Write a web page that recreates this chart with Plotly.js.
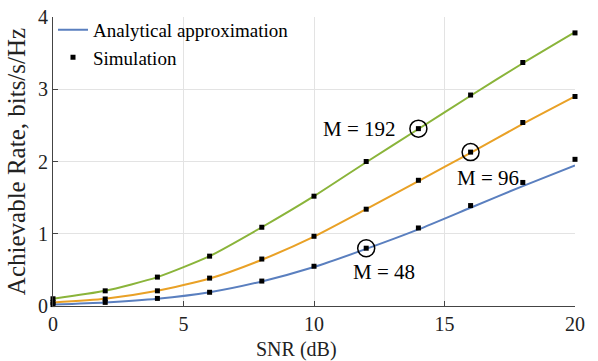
<!DOCTYPE html>
<html>
<head>
<meta charset="utf-8">
<script src="https://cdn.plot.ly/plotly-3.0.1.min.js"></script>
<style>html,body{margin:0;padding:0;background:#fff;}#chart{width:598px;height:361px;}</style>
</head>
<body>
<div id="chart"></div>
<script>
var snr = [0, 2, 4, 6, 8, 10, 12, 14, 16, 18, 20];
var anaM48  = [0.02, 0.05, 0.10, 0.19, 0.34, 0.54, 0.79, 1.06, 1.36, 1.66, 1.945];
var anaM96  = [0.05, 0.10, 0.21, 0.38, 0.64, 0.96, 1.34, 1.73, 2.12, 2.52, 2.90];
var anaM192 = [0.10, 0.21, 0.40, 0.69, 1.09, 1.52, 1.99, 2.45, 2.91, 3.36, 3.79];
var simM48  = [0.02, 0.05, 0.105, 0.19, 0.345, 0.55, 0.80, 1.08, 1.39, 1.71, 2.03];
var simM96  = [0.05, 0.097, 0.21, 0.386, 0.65, 0.965, 1.34, 1.74, 2.13, 2.54, 2.90];
var simM192 = [0.10, 0.21, 0.40, 0.69, 1.09, 1.52, 2.00, 2.455, 2.92, 3.37, 3.78];
var xTicks = [0, 5, 10, 15, 20];
var yTicks = [0, 1, 2, 3, 4];

var font = "Liberation Serif, Times New Roman, serif";
var cBlue = "#5a7fbf", cOrange = "#e9a126", cGreen = "#8ab43a";

function line(y, c, name, show) {
  return {x: snr, y: y, mode: "lines", type: "scatter", name: name, showlegend: show,
    line: {color: c, width: 2, shape: "spline", smoothing: 0.6}, cliponaxis: false};
}
function sim(y, show) {
  return {x: snr, y: y, mode: "markers", type: "scatter", name: "Simulation", showlegend: show,
    marker: {symbol: "square", color: "#000", size: 5}, cliponaxis: false};
}
var data = [
  line(anaM48, cBlue, "Analytical approximation", true),
  line(anaM96, cOrange, "Analytical M96", false),
  line(anaM192, cGreen, "Analytical M192", false),
  sim(simM48, true), sim(simM96, false), sim(simM192, false)
];

function circ(x, y) {
  return {type: "circle", xref: "x", yref: "y", xsizemode: "pixel", ysizemode: "pixel",
    xanchor: x, yanchor: y, x0: -8.5, x1: 8.5, y0: -8.5, y1: 8.5,
    line: {color: "#000", width: 1.5}};
}

var layout = {
  width: 598, height: 361,
  margin: {l: 53, r: 23, t: 16, b: 55},
  paper_bgcolor: "#fff", plot_bgcolor: "#fff",
  font: {family: font, size: 18, color: "#222"},
  showlegend: true,
  legend: {x: 0.0, y: 1.018, xanchor: "left", yanchor: "top", bgcolor: "rgba(0,0,0,0)",
    font: {family: font, size: 19, color: "#000"}, itemwidth: 30, tracegroupgap: 0},
  xaxis: {range: [0, 20], tickvals: xTicks, ticktext: xTicks.map(String),
    showgrid: true, gridcolor: "#e3e3e3", zeroline: false,
    showline: true, linecolor: "#444", linewidth: 1, ticks: "inside", ticklen: 5, tickcolor: "#444",
    tickfont: {family: font, size: 20, color: "#222"}},
  yaxis: {range: [0, 4], tickvals: yTicks, ticktext: yTicks.map(String),
    showgrid: true, gridcolor: "#e3e3e3", zeroline: false,
    showline: true, linecolor: "#444", linewidth: 1, ticks: "inside", ticklen: 5, tickcolor: "#444",
    tickfont: {family: font, size: 20, color: "#222"},
    title: {text: "Achievable Rate, bits/s/Hz", font: {family: font, size: 25, color: "#222"}, standoff: 5}},
  shapes: [circ(14, simM192[7]), circ(16, simM96[8]), circ(12, simM48[6])],
  annotations: [
    {x: 0.466, y: -0.152, xref: "paper", yref: "paper", text: "SNR (dB)", showarrow: false,
      xanchor: "center", yanchor: "middle", font: {family: font, size: 20, color: "#222"}},
    {x: 13.2, y: 2.45, xref: "x", yref: "y", text: "M = 192", showarrow: false, xanchor: "right", yanchor: "middle",
      font: {family: font, size: 21, color: "#000"}},
    {x: 15.4, y: 1.77, xref: "x", yref: "y", text: "M = 96", showarrow: false, xanchor: "left", yanchor: "middle",
      font: {family: font, size: 21, color: "#000"}},
    {x: 12.7, y: 0.47, xref: "x", yref: "y", text: "M = 48", showarrow: false, xanchor: "center", yanchor: "middle",
      font: {family: font, size: 21, color: "#000"}}
  ]
};
Plotly.newPlot("chart", data, layout, {displayModeBar: false, staticPlot: true});
</script>
</body>
</html>
